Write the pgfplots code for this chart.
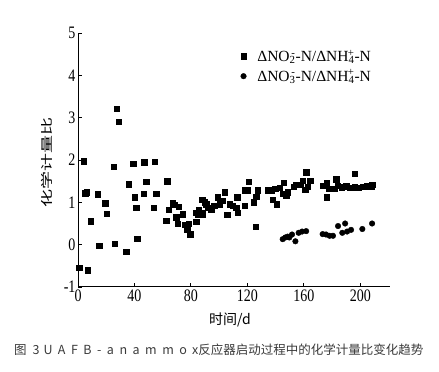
\documentclass[border=0pt]{standalone}
\usepackage{pgfplots}
\pgfplotsset{compat=1.18}
\usepackage{fontspec}
\setmainfont{Liberation Serif}
\newfontfamily\cjk{Noto Sans CJK SC}
\definecolor{capgray}{HTML}{3A3A3A}
\pgfplotstableread{
x y
0.8 -0.55
3.9 1.97
5.1 1.22
6.2 1.24
6.9 -0.60
8.8 0.55
14 1.19
15 -0.02
19.3 0.98
20.2 0.73
25.1 1.84
26 0.02
27.3 3.21
28.9 2.91
34.1 -0.16
36 1.43
39 1.91
40.2 1.12
41.2 0.88
41.9 0.14
46.4 1.21
47 1.95
48.3 1.49
53.5 0.88
54.4 1.96
55.4 1.20
62.4 0.57
63.3 1.50
64.3 0.83
67.1 0.98
68.3 0.94
69.5 0.65
70.7 0.49
71.4 0.90
74.2 0.72
75.9 0.47
77.3 0.37
78.2 0.49
79.4 0.25
83.2 0.76
83.7 0.54
84.8 0.72
85.5 0.82
87.9 1.06
87.9 0.72
88.4 0.76
89.6 1.00
90.8 0.96
91.9 0.88
94.3 0.84
96.6 0.92
99 1.12
100.2 0.96
102.5 1.04
103.7 1.24
105.6 0.71
107.3 0.96
109.6 0.92
112 0.88
112.7 1.12
113.1 0.76
117.9 0.92
117.9 1.29
119.8 1.29
120.7 1.49
124.5 1.00
125.7 0.43
126.2 1.13
127.3 1.29
134.4 1.29
136.8 1.29
137.9 1.06
139.8 1.32
140.7 0.96
142.7 1.35
145 1.20
145.5 1.46
147.4 1.16
148.5 1.24
152.6 1.37
154.5 1.42
157.3 1.42
159.2 1.51
160.8 1.30
161.6 1.71
162.7 1.37
164.6 1.51
173.3 1.39
176.2 1.45
176.2 1.12
177.6 1.32
181.6 1.32
182.8 1.55
184 1.39
186.8 1.36
189.9 1.38
192.9 1.35
195.8 1.67
195.8 1.36
198.6 1.35
201.6 1.37
204.7 1.38
207.6 1.37
208.5 1.42
}\nitrite
\pgfplotstableread{
x y
145 0.13
146.9 0.17
148.5 0.19
149.7 0.17
151.6 0.24
154 0.08
156.3 0.28
158.7 0.31
161.6 0.32
173.3 0.25
175.7 0.24
178.2 0.21
180.6 0.21
184.2 0.44
187.2 0.28
189.2 0.50
190.6 0.31
193.4 0.35
201.4 0.37
208.3 0.50
}\nitrate
\newcommand{\ion}[2]{\textsubscript{#1}\llap{\textsuperscript{#2}}}
\begin{document}
\begin{tikzpicture}
\useasboundingbox (0,0) rectangle (439pt,372pt);
\begin{axis}[
  at={(78pt,85pt)}, anchor=south west,
  scale only axis, width=312pt, height=254pt,
  xmin=0, xmax=221, ymin=-1, ymax=5,
  axis x line*=bottom, axis y line*=left,
  x axis line style={-}, y axis line style={-},
  axis line style={line width=1pt},
  xtick={0,40,80,120,160,200}, ytick={-1,0,1,2,3,4,5},
  tick align=inside, major tick length=4pt,
  tick style={line width=0.9pt, black},
  /pgf/number format/assume math mode=true,
  tick label style={font=\fontsize{14}{14}\selectfont, yscale=1.25},
  xticklabel style={yshift=1pt},
  yticklabel style={xshift=1pt},
  xlabel={\cjk 时间/d},
  ylabel={\scalebox{1.5}[1]{\cjk 化学计量比}},
  every axis x label/.style={at={(axis description cs:0.487,-0.13)}, anchor=center, font=\fontsize{14}{14}\selectfont},
  every axis y label/.style={at={(axis description cs:-0.099,0.49)}, rotate=90, anchor=center, font=\fontsize{12}{12}\selectfont},
  legend style={draw=none, fill=none, at={(axis cs:113,4.7)}, anchor=north west,
    font=\fontsize{15.5}{17}\selectfont, row sep=3pt,
    /tikz/every even column/.append style={column sep=0pt},
    /tikz/every odd column/.append style={column sep=9pt}},
  legend image code/.code={\draw[#1] plot coordinates {(0.3cm,0cm)};},
  legend cell align=left,
]
\addplot[only marks, mark=square*, mark size=2.7pt, black] table {\nitrite};
\addlegendentry{ΔNO\ion{2}{-}-N/ΔNH\ion{4}{+}-N}
\addplot[only marks, mark=*, mark size=2.8pt, black] table {\nitrate};
\addlegendentry{ΔNO\ion{3}{-}-N/ΔNH\ion{4}{+}-N}
\end{axis}
\node[anchor=west, text=capgray, inner sep=0pt] at (14pt,22pt)
  {\cjk\fontsize{12.5}{14}\selectfont 图\hspace{6pt}{\addfontfeature{LetterSpace=44}3\hspace{4pt}UAFB-anammox}反应器启动过程中的化学计量比变化趋势};
\end{tikzpicture}
\end{document}
